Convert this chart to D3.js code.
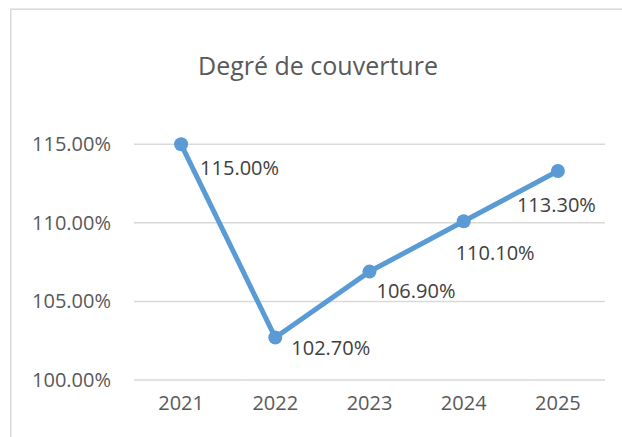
<!DOCTYPE html>
<html>
<head>
<meta charset="utf-8">
<script src="https://cdn.jsdelivr.net/npm/d3@7"></script>
<style>
  body { margin: 0; background: #fff; }
  svg { display: block; font-family: "Open Sans", sans-serif; }
</style>
</head>
<body>
<svg id="chart" width="622" height="437"></svg>
<script>
// Data
let years = ["2021", "2022", "2023", "2024", "2025"];
let coverage = [115.0, 102.7, 106.9, 110.1, 113.3];
let yTicks = [100, 105, 110, 115];

// Label nudges (dx, dy from the point)
let labelNudge = [[19, 31], [16, 17], [7, 26], [-8, 39], [-41, 41]];

let svg = d3.select("#chart");

// Chart box border
svg.append("rect")
    .attr("x", 10.8).attr("y", 9.2)
    .attr("width", 700).attr("height", 500)
    .attr("fill", "none")
    .attr("stroke", "#d9d9d9")
    .attr("stroke-width", 1.5);

// Title
svg.append("text")
    .attr("x", 318).attr("y", 75)
    .attr("text-anchor", "middle")
    .attr("fill", "#595959")
    .attr("font-size", 25)
    .text("Degré de couverture");

// Scales
let xScale = d3.scaleBand().domain(years).range([134, 605]).padding(0);
let yScale = d3.scaleLinear().domain([100, 115]).range([380, 144.3]);
let cx = d => xScale(d) + xScale.bandwidth() / 2;

// Gridlines
svg.append("g")
    .selectAll("line")
    .data(yTicks)
    .enter()
    .append("line")
    .attr("x1", 134).attr("x2", 605)
    .attr("y1", d => yScale(d)).attr("y2", d => yScale(d))
    .attr("stroke", "#d9d9d9")
    .attr("stroke-width", 1.5);

// Y axis labels
let yAxis = svg.append("g")
    .attr("transform", "translate(111, 0)")
    .call(d3.axisLeft(yScale).tickValues(yTicks).tickSize(0).tickPadding(0)
        .tickFormat(d => d.toFixed(2) + "%"));
yAxis.select(".domain").remove();
yAxis.selectAll("text")
    .attr("fill", "#595959")
    .attr("font-size", 20)
    .attr("font-family", "Open Sans, sans-serif");

// X axis labels
let xAxis = svg.append("g")
    .attr("transform", "translate(0, 396)")
    .call(d3.axisBottom(xScale).tickSize(0).tickPadding(0));
xAxis.select(".domain").remove();
xAxis.selectAll("text")
    .attr("fill", "#595959")
    .attr("font-size", 20)
    .attr("font-family", "Open Sans, sans-serif");

// Line
let line = d3.line()
    .x((d, i) => cx(years[i]))
    .y(d => yScale(d));

svg.append("path")
    .datum(coverage)
    .attr("fill", "none")
    .attr("stroke", "#5b9bd5")
    .attr("stroke-width", 5)
    .attr("stroke-linejoin", "round")
    .attr("d", line);

// Markers
svg.append("g")
    .selectAll("circle")
    .data(coverage)
    .enter()
    .append("circle")
    .attr("cx", (d, i) => cx(years[i]))
    .attr("cy", d => yScale(d))
    .attr("r", 7)
    .attr("fill", "#5b9bd5");

// Data labels
svg.append("g")
    .selectAll("text")
    .data(coverage)
    .enter()
    .append("text")
    .attr("x", (d, i) => cx(years[i]) + labelNudge[i][0])
    .attr("y", (d, i) => yScale(d) + labelNudge[i][1])
    .attr("fill", "#404040")
    .attr("font-size", 20)
    .text(d => d.toFixed(2) + "%");
</script>
</body>
</html>
